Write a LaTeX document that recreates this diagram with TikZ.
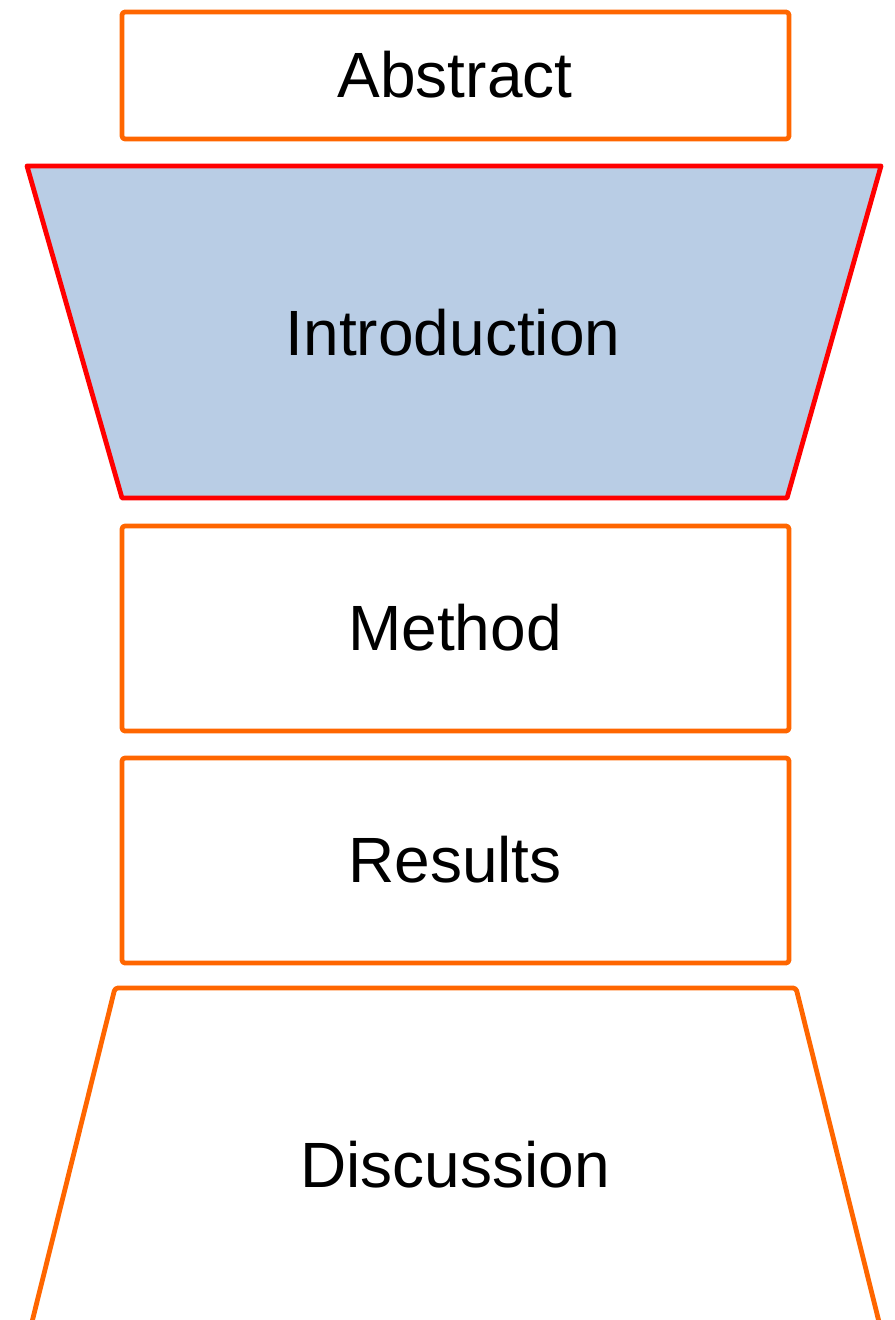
\documentclass[tikz,border=0pt]{standalone}
\usepackage{fontspec}
\setmainfont{Liberation Sans}
\definecolor{orng}{HTML}{FF6600}
\definecolor{redline}{HTML}{FF0000}
\definecolor{lblue}{HTML}{B9CDE5}
\begin{document}
\begin{tikzpicture}[x=0.5pt,y=-0.5pt,
  box/.style={draw=orng,line width=2.4pt,rounded corners=1.5pt,line join=round},
  intro/.style={draw=redline,fill=lblue,line width=2.4pt,line join=round},
  lbl/.style={font=\fontsize{32}{38}\selectfont,text=black,inner sep=0pt}]
\useasboundingbox (0,0) rectangle (894,1320);
\clip (0,0) rectangle (894,1320);
% Abstract
\draw[box] (122,12) rectangle (789,139);
\node[lbl] (abstract) at (455,75) {Abstract};
% Introduction
\draw[intro] (27,166) -- (881,166) -- (787,498) -- (122,498) -- cycle;
\node[lbl] (intro) at (453,333) {Introduction};
% Method
\draw[box] (122,526) rectangle (789,731);
\node[lbl] (method) at (455,628) {Method};
% Results
\draw[box] (122,758) rectangle (789,963);
\node[lbl] (results) at (455,860) {Results};
% Discussion
\draw[box] (30,1330) -- (115,988) -- (796,988) -- (881,1330);
\node[lbl] (discussion) at (455,1165) {Discussion};
\end{tikzpicture}
\end{document}
